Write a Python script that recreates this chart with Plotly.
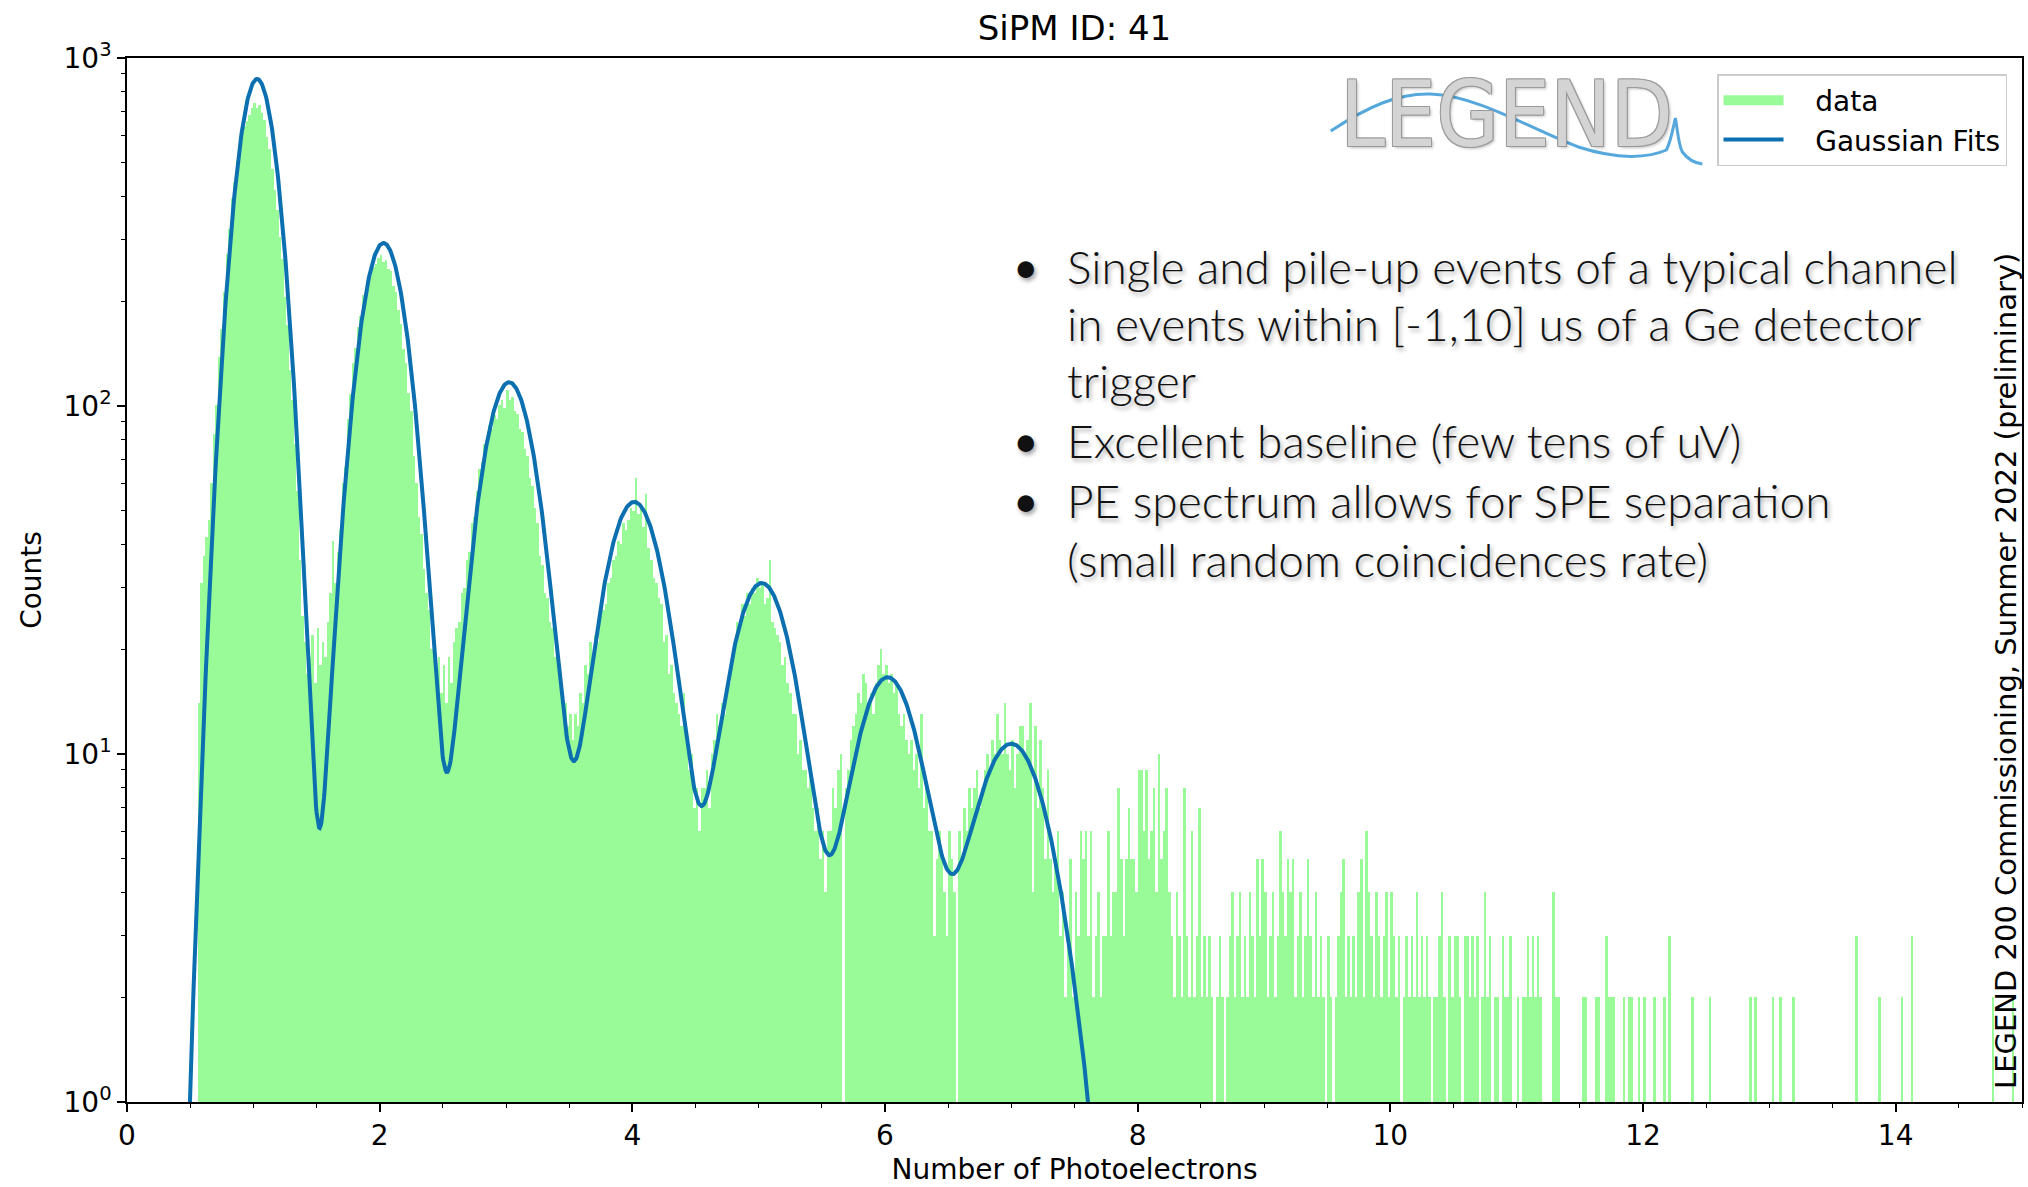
import numpy as np
import plotly.graph_objects as go

# ---------------- data ----------------
bin_start = 0.56
bin_width = 0.02

counts_pe1 = [
    14, 31, 37, 42, 47, 60, 83, 101, 138, 166,
    212, 274, 322, 395, 441, 506, 538, 597, 636, 659,
    684, 716, 742, 718, 731, 694, 662, 594, 547, 480,
    418, 366, 305, 264, 206, 171, 127, 104, 78, 57,
    36, 25, 21, 17, 19, 22, 16, 23, 18, 21,
]
counts_pe2_3 = [
    19, 24, 29, 41, 31, 38, 44, 60, 67, 92,
    108, 133, 147, 169, 182, 208, 215, 231, 236, 251,
    256, 266, 272, 259, 263, 247, 244, 221, 213, 189,
    172, 146, 133, 109, 97, 72, 60, 48, 43, 34,
    29, 26, 20, 21, 17, 19, 15, 18, 14, 19,
    16, 21, 23, 24, 29, 30, 36, 38, 46, 48,
    57, 66, 69, 78, 81, 88, 86, 94, 92, 101,
    104, 99, 111, 104, 106, 97, 95, 86, 84, 75,
    72, 62, 59, 51, 46, 37, 35, 29, 28, 24,
    23, 19, 18, 16, 15, 14, 12, 13, 11, 13,
]
counts_pe4_5 = [
    12, 15, 14, 18, 17, 21, 19, 22, 21, 25,
    26, 27, 31, 32, 36, 37, 41, 40, 46, 44,
    47, 51, 50, 62, 49, 52, 45, 56, 39, 36,
    32, 31, 28, 27, 21, 22, 17, 18, 15, 14,
    13, 12, 15, 11, 9, 10, 7, 8, 6, 8,
    8, 9, 7, 10, 11, 13, 12, 14, 13, 16,
    16, 19, 20, 24, 23, 27, 25, 29, 27, 30,
    29, 32, 30, 31, 27, 28, 36, 24, 23, 22,
    21, 18, 19, 16, 15, 13, 13, 10, 11, 9,
    9, 8, 9, 7, 6, 7, 5, 6, 4, 6,
]
counts_pe6_7 = [
    6, 8, 7, 9, 10, 1, 8, 9, 11, 12,
    13, 15, 14, 17, 16, 14, 15, 13, 16, 18,
    20, 17, 18, 16, 17, 15, 16, 13, 12, 13,
    11, 10, 11, 9, 10, 8, 13, 7, 8, 6,
    6, 3, 5, 6, 5, 4, 3, 6, 5, 4,
    1, 6, 5, 7, 6, 8, 7, 8, 9, 7,
    8, 9, 10, 9, 11, 10, 13, 11, 10, 14,
    10, 9, 11, 8, 10, 12, 12, 10, 11, 14,
    4, 12, 7, 11, 8, 5, 9, 5, 4, 5,
    6, 3, 4, 2, 3, 5, 2, 4, 3, 6,
]
counts_pe8_10 = [
    5, 6, 3, 6, 2, 3, 4, 2, 3, 3,
    6, 3, 4, 4, 8, 5, 3, 5, 7, 5,
    5, 4, 9, 9, 6, 9, 5, 6, 8, 4,
    10, 5, 6, 8, 4, 3, 2, 4, 3, 2,
    8, 3, 2, 6, 2, 3, 7, 2, 3, 2,
    3, 2, 1, 2, 3, 2, 1, 2, 3, 4,
    2, 3, 4, 2, 3, 2, 4, 3, 2, 5,
    3, 5, 4, 2, 3, 4, 2, 3, 6, 4,
    3, 5, 4, 5, 2, 3, 4, 2, 3, 5,
    3, 2, 4, 2, 3, 2, 1, 3, 2, 1,
    2, 3, 4, 5, 2, 3, 2, 3, 2, 4,
    5, 2, 6, 4, 3, 2, 4, 3, 2, 3,
    4, 2, 4, 3, 2, 3, 1, 2, 3, 2,
    3, 2, 4, 2, 3, 2, 3, 2, 1, 2,
    2, 3, 4, 2, 1, 3, 2, 3, 3, 2,
]
counts_tail = [
    1, 3, 3, 2, 3, 2, 3, 1, 2, 4,
    2, 3, 1, 2, 2, 1, 3, 2, 2, 3,
    1, 1, 2, 1, 2, 2, 3, 2, 3, 2,
    3, 2, 1, 0, 1, 1, 4, 2, 2, 1,
    1, 0, 1, 1, 0, 1, 0, 1, 2, 2,
    1, 1, 0, 2, 2, 1, 0, 3, 2, 2,
    2, 1, 0, 1, 2, 1, 2, 2, 1, 1,
    2, 1, 2, 0, 1, 1, 2, 0, 1, 1,
    2, 1, 3, 0, 1, 0, 0, 1, 0, 0,
    0, 2, 0, 0, 1, 0, 0, 0, 2, 0,
    0, 1, 0, 0, 0, 0, 0, 1, 0, 0,
    0, 0, 0, 0, 2, 0, 2, 0, 0, 1,
    0, 0, 0, 2, 0, 0, 2, 0, 0, 0,
    0, 2, 0, 0, 1, 0, 0, 0, 0, 0,
    0, 0, 0, 0, 0, 0, 0, 0, 0, 0,
    0, 0, 0, 0, 0, 0, 3, 0, 0, 0,
    0, 0, 0, 0, 0, 2, 0, 0, 0, 0,
    0, 0, 0, 0, 2, 0, 0, 0, 3, 0,
    0, 0, 0, 0, 0, 0, 0, 0, 0, 0,
    0, 0, 0, 0, 0, 0, 0, 0, 0, 0,
    0, 0, 0, 0, 0, 0, 0, 0, 0, 0,
    2, 0, 0, 0, 0, 0, 0, 0, 2, 0,
    0,
]

# Gaussian fit parameters (one Gaussian per photo-electron peak)
fit_mu = [1.03, 2.03, 3.025, 4.015, 5.025, 6.02, 7.0]
fit_amp = [870, 294, 117, 53, 31, 16.6, 10.7]
fit_sigma = [0.145, 0.170, 0.197, 0.225, 0.234, 0.245, 0.28]

x_ticks = [0, 2, 4, 6, 8, 10, 12, 14]
y_tickvals = [1, 10, 100, 1000]
y_ticktext = ["10<sup>0</sup>", "10<sup>1</sup>", "10<sup>2</sup>", "10<sup>3</sup>"]

bullet_lines = [
    ("•", "Single and pile-up events of a typical channel"),
    ("", "in events within [-1,10] us of a Ge detector"),
    ("", "trigger"),
    ("•", "Excellent baseline (few tens of uV)"),
    ("•", "PE spectrum allows for SPE separation"),
    ("", "(small random coincidences rate)"),
]

# ---------------- derived ----------------
counts = counts_pe1 + counts_pe2_3 + counts_pe4_5 + counts_pe6_7 + counts_pe8_10 + counts_tail
bin_centers = bin_start + bin_width * (np.arange(len(counts)) + 0.5)

x_fit = np.linspace(0.42, 7.75, 1500)
y_fit = np.zeros_like(x_fit)
for m, a, s in zip(fit_mu, fit_amp, fit_sigma):
    y_fit += a * np.exp(-((x_fit - m) ** 2) / (2 * s ** 2))

# ---------------- geometry helpers (pixels -> paper) ----------------
W, H = 2028, 1187
PL, PR, PT, PB = 127, 2024, 58, 1102


def px(x):
    return (x - PL) / (PR - PL)


def py(y):
    return (PB - y) / (PB - PT)


GREEN = "#98FB98"
BLUE = "#0b6fb0"
FONT = "DejaVu Sans"
NB = "\u00a0"

fig = go.Figure()
fig.add_trace(go.Bar(
    x=bin_centers, y=counts, width=bin_width,
    marker=dict(color=GREEN, line=dict(width=0)),
    name="data", legendgroup="data", showlegend=False,
))
fig.add_trace(go.Scatter(
    x=[None], y=[None], mode="lines", name=NB * 3 + "data", legendgroup="data",
    line=dict(color=GREEN, width=21),
))
fig.add_trace(go.Scatter(
    x=x_fit, y=y_fit, mode="lines", name=NB * 3 + "Gaussian Fits",
    line=dict(color=BLUE, width=4),
))

annotations = []
line_y = [266, 323, 381, 440, 500, 559]
text_shadow = "2px 3px 4px rgba(0,0,0,0.35)"
for (b, t), yy in zip(bullet_lines, line_y):
    if b:
        annotations.append(dict(
            x=px(1027), y=py(yy), xref="paper", yref="paper", text=b,
            showarrow=False, xanchor="center", yanchor="middle",
            font=dict(family="Lato", size=44, color="#111111", shadow=text_shadow),
        ))
    annotations.append(dict(
        x=px(1066), y=py(yy), xref="paper", yref="paper", text=t,
        showarrow=False, xanchor="left", yanchor="middle",
        font=dict(family="Lato", size=46, color="#111111", weight=300, shadow=text_shadow),
    ))

# vertical label
annotations.append(dict(
    x=px(2008), y=py(671), xref="paper", yref="paper",
    text="LEGEND 200 Commissioning, Summer 2022 (preliminary)",
    textangle=-90, showarrow=False, xanchor="center", yanchor="middle",
    font=dict(family=FONT, size=29, color="black"),
))

# LEGEND logo text
annotations.append(dict(
    x=px(1508), y=py(114), xref="paper", yref="paper", text="LEGEND",
    showarrow=False, xanchor="center", yanchor="middle",
    font=dict(family="DejaVu Sans Condensed, Liberation Sans Narrow, Roboto, sans-serif",
              size=90, color="#d4d4d4",
              shadow="1px 1px 0 #9a9a9a, -1px -1px 0 #9a9a9a, 1px -1px 0 #9a9a9a, -1px 1px 0 #9a9a9a, 2px 2px 3px rgba(0,0,0,0.25)"),
))

# logo wave (decoration)
wave_pts = [
    ("M", [(1332, 131)]),
    ("C", [(1370, 106), (1400, 93), (1432, 94)]),
    ("C", [(1480, 96), (1530, 128), (1580, 147)]),
    ("C", [(1620, 160), (1650, 158), (1668, 150)]),
    ("C", [(1673, 140), (1675, 126), (1677, 118)]),
    ("C", [(1679, 128), (1680, 145), (1684, 152)]),
    ("C", [(1690, 160), (1696, 163), (1704, 164)]),
]
path = ""
for cmd, pts in wave_pts:
    path += cmd + " " + " ".join(f"{px(a):.5f},{py(b):.5f}" for a, b in pts) + " "

shapes = [dict(type="path", path=path.strip(), xref="paper", yref="paper",
               line=dict(color="#55a7dc", width=3), layer="above")]

fig.update_layout(
    width=W, height=H,
    margin=dict(l=PL, r=W - PR, t=PT, b=H - PB),
    paper_bgcolor="white", plot_bgcolor="white",
    bargap=0,
    font=dict(family=FONT, size=28, color="black"),
    title=dict(text="SiPM ID: 41", x=0.5, xref="paper", y=1 - 28 / H, yref="container",
               xanchor="center", yanchor="middle", font=dict(family=FONT, size=34, color="black")),
    xaxis=dict(
        range=[0, 15], tickvals=x_ticks, ticks="outside", ticklen=8, tickwidth=1.5, tickcolor="black",
        showline=True, mirror=True, linecolor="black", linewidth=1.6, showgrid=False, zeroline=False,
        tickfont=dict(family=FONT, size=28),
        minor=dict(dtick=0.5, ticks="outside", ticklen=4.5, tickwidth=1.2, tickcolor="black", showgrid=False),
        title=dict(text="Number of Photoelectrons", font=dict(family=FONT, size=28), standoff=8),
    ),
    yaxis=dict(
        type="log", range=[0, 3], tickvals=y_tickvals, ticktext=y_ticktext,
        ticks="outside", ticklen=8, tickwidth=1.5, tickcolor="black",
        showline=True, mirror=True, linecolor="black", linewidth=1.6, showgrid=False, zeroline=False,
        tickfont=dict(family=FONT, size=28),
        minor=dict(tickvals=[v * d for d in (1, 10, 100) for v in range(2, 10)], ticks="outside",
                   ticklen=4.5, tickwidth=1.2, tickcolor="black", showgrid=False),
        title=dict(text="Counts", font=dict(family=FONT, size=28), standoff=14),
    ),
    legend=dict(x=px(2009), y=py(74), xanchor="right", yanchor="top",
                bgcolor="white", bordercolor="#cccccc", borderwidth=1.5,
                font=dict(family=FONT, size=28), itemwidth=60, tracegroupgap=0),
    annotations=annotations,
    shapes=shapes,
)

fig.write_html("out.html")
